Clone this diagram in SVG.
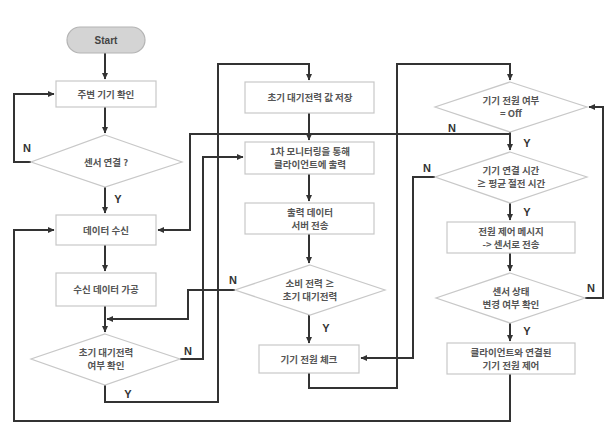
<svg xmlns="http://www.w3.org/2000/svg" width="611" height="427" viewBox="0 0 611 427">
<defs>
<marker id="ah" markerWidth="7" markerHeight="7" refX="6" refY="3.5" orient="auto" markerUnits="userSpaceOnUse">
<path d="M0,0.5 L6.5,3.5 L0,6.5 Z" fill="#333"/>
</marker>
<style>
.box{fill:#fff;stroke:#c8c8c8;stroke-width:1.2}
.dia{fill:#fff;stroke:#c8c8c8;stroke-width:1.2}
.start{fill:#d4d4d4;stroke:#b4b4b4;stroke-width:1.2}
.t{font-family:"Noto Sans CJK KR","Noto Sans",sans-serif;font-size:9.5px;font-weight:bold;fill:#555;text-anchor:middle}
.lb{font-family:"Liberation Sans",Arial,sans-serif;font-size:11px;font-weight:bold;fill:#333;text-anchor:middle}
.c{fill:none;stroke:#333;stroke-width:2}
</style>
</defs>
<rect width="611" height="427" fill="#fff"/>
<g id="connectors">
<path class="c" d="M105,53 V79" marker-end="url(#ah)"/>
<path class="c" d="M105,107 V133" marker-end="url(#ah)"/>
<path class="c" d="M31,162 H14 V94 H54" marker-end="url(#ah)"/>
<path class="c" d="M105,187 V213" marker-end="url(#ah)"/>
<path class="c" d="M105,245 V271" marker-end="url(#ah)"/>
<path class="c" d="M105,306 V332" marker-end="url(#ah)"/>
<path class="c" d="M105,385 V402 H218 V64 H309 V80" marker-end="url(#ah)"/>
<path class="c" d="M180,359 H203 V157 H243" marker-end="url(#ah)"/>
<path class="c" d="M309,113 V140" marker-end="url(#ah)"/>
<path class="c" d="M510,132 V134 H190 V230 H158" marker-end="url(#ah)"/>
<path class="c" d="M309,174 V201" marker-end="url(#ah)"/>
<path class="c" d="M309,234 V263" marker-end="url(#ah)"/>
<path class="c" d="M235,290 H188 V319 H107" marker-end="url(#ah)"/>
<path class="c" d="M309,315 V343" marker-end="url(#ah)"/>
<path class="c" d="M309,373 V388 H397 V64 H510 V80" marker-end="url(#ah)"/>
<path class="c" d="M510,134 V150" marker-end="url(#ah)"/>
<path class="c" d="M435,177 H413 V358 H361" marker-end="url(#ah)"/>
<path class="c" d="M510,203 V220" marker-end="url(#ah)"/>
<path class="c" d="M510,253 V271" marker-end="url(#ah)"/>
<path class="c" d="M585,298 H603 V107 H589" marker-end="url(#ah)"/>
<path class="c" d="M510,323 V341" marker-end="url(#ah)"/>
<path class="c" d="M510,374 V421 H14 V230 H54" marker-end="url(#ah)"/>
<text class="lb" x="27" y="152">N</text>
<text class="lb" x="118" y="203">Y</text>
<text class="lb" x="188" y="355">N</text>
<text class="lb" x="128" y="398">Y</text>
<text class="lb" x="233" y="284">N</text>
<text class="lb" x="326" y="332">Y</text>
<text class="lb" x="452" y="132">N</text>
<text class="lb" x="527" y="147">Y</text>
<text class="lb" x="427" y="172">N</text>
<text class="lb" x="527" y="216">Y</text>
<text class="lb" x="591" y="292">N</text>
<text class="lb" x="527" y="335">Y</text>
</g>
<g id="start">
<rect class="start" x="67" y="27" width="78" height="26" rx="13"/>
<text class="lb" x="106" y="44" style="font-size:10px;fill:#444">Start</text>
</g>
<g id="n1">
<rect class="box" x="56" y="81" width="100" height="26"/>
<text class="t" x="106" y="97.5">주변 기기 확인</text>
</g>
<g id="d1">
<polygon class="dia" points="105,135 182,162 105,187 31,162"/>
<text class="t" x="106" y="165.5">센서 연결 ?</text>
</g>
<g id="n2">
<rect class="box" x="56" y="215" width="100" height="30"/>
<text class="t" x="106" y="233.5">데이터 수신</text>
</g>
<g id="n3">
<rect class="box" x="56" y="273" width="100" height="33"/>
<text class="t" x="106" y="292.5">수신 데이터 가공</text>
</g>
<g id="d2">
<polygon class="dia" points="105,334 180,359 105,385 31,359"/>
<text class="t" x="106" y="356">초기 대기전력</text>
<text class="t" x="106" y="369">여부 확인</text>
</g>
<g id="n4">
<rect class="box" x="245" y="82" width="129" height="31"/>
<text class="t" x="310" y="100.5">초기 대기전력 값 저장</text>
</g>
<g id="n5">
<rect class="box" x="245" y="142" width="129" height="32"/>
<text class="t" x="310" y="155">1차 모니터링을 통해</text>
<text class="t" x="310" y="168">클라이언트에 출력</text>
</g>
<g id="n6">
<rect class="box" x="245" y="203" width="129" height="31"/>
<text class="t" x="310" y="216">출력 데이터</text>
<text class="t" x="310" y="229">서버 전송</text>
</g>
<g id="d3">
<polygon class="dia" points="310,265 385,290 310,315 235,290"/>
<text class="t" x="310" y="287">소비 전력 ≥</text>
<text class="t" x="310" y="300">초기 대기전력</text>
</g>
<g id="n7">
<rect class="box" x="259" y="345" width="100" height="28"/>
<text class="t" x="309" y="362.5">기기 전원 체크</text>
</g>
<g id="d4">
<polygon class="dia" points="510,82 587,107 510,132 435,107"/>
<text class="t" x="511" y="104">기기 전원 여부</text>
<text class="t" x="511" y="117">= Off</text>
</g>
<g id="d5">
<polygon class="dia" points="510,152 587,177 510,203 435,177"/>
<text class="t" x="511" y="174">기기 연결 시간</text>
<text class="t" x="511" y="187">≥ 평균 절전 시간</text>
</g>
<g id="n8">
<rect class="box" x="447" y="222" width="128" height="31"/>
<text class="t" x="511" y="235">전원 제어 메시지</text>
<text class="t" x="511" y="248">-&gt; 센서로 전송</text>
</g>
<g id="d6">
<polygon class="dia" points="510,273 585,298 510,323 436,298"/>
<text class="t" x="511" y="295">센서 상태</text>
<text class="t" x="511" y="308">변경 여부 확인</text>
</g>
<g id="n9">
<rect class="box" x="447" y="343" width="128" height="31"/>
<text class="t" x="511" y="356">클라이언트와 연결된</text>
<text class="t" x="511" y="369">기기 전원 제어</text>
</g>
</svg>
